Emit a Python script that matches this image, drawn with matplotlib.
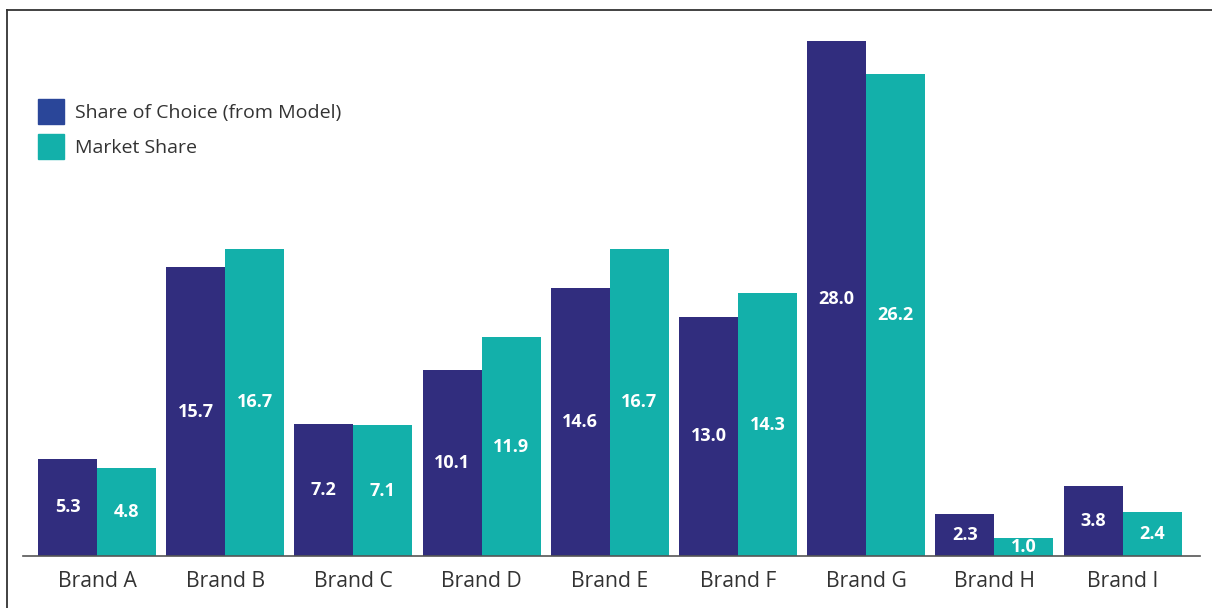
import matplotlib.pyplot as plt
import numpy as np
from matplotlib.patches import Patch
from matplotlib.lines import Line2D

brands = ['Brand A', 'Brand B', 'Brand C', 'Brand D', 'Brand E',
          'Brand F', 'Brand G', 'Brand H', 'Brand I']
share_of_choice = [5.3, 15.7, 7.2, 10.1, 14.6, 13.0, 28.0, 2.3, 3.8]
market_share = [4.8, 16.7, 7.1, 11.9, 16.7, 14.3, 26.2, 1.0, 2.4]

navy = '#312d7e'
navy_key = '#2a4699'
teal = '#13b0aa'

plt.rcParams['font.family'] = ['Open Sans', 'DejaVu Sans']

W, H = 1212, 608
fig = plt.figure(figsize=(W / 100, H / 100), dpi=100)
ax = fig.add_axes([23 / W, 52 / H, (1200 - 23) / W, (556 - 10) / H])

x = np.arange(len(brands))
w = 0.46
b1 = ax.bar(x - w / 2, share_of_choice, w, color=navy)
b2 = ax.bar(x + w / 2, market_share, w, color=teal)

# value labels sit in the middle of each bar
for bars, vals in ((b1, share_of_choice), (b2, market_share)):
    for r, v in zip(bars, vals):
        ax.text(r.get_x() + r.get_width() / 2, v / 2, f'{v:.1f}',
                ha='center', va='center', color='white',
                fontsize=13, fontweight='bold')

ax.set_xlim(-0.577, 8.604)
ax.set_ylim(0, 546 / 18.39)
ax.set_xticks(x)
ax.set_xticklabels(brands, fontsize=15.2, color='#333333')
ax.tick_params(axis='x', length=0, pad=10.5)
ax.set_yticks([])
for s in ('top', 'right', 'left'):
    ax.spines[s].set_visible(False)
ax.spines['bottom'].set_color('#555555')
ax.spines['bottom'].set_linewidth(1.2)

handles = [Patch(color=navy_key), Patch(color=teal)]
ax.legend(handles, ['Share of Choice (from Model)', 'Market Share'],
          loc='upper left', bbox_to_anchor=(38 / W, 1 - 99 / H),
          bbox_transform=fig.transFigure, frameon=False,
          fontsize=14, labelcolor='#333333',
          handlelength=1.34, handleheight=1.61, handletextpad=0.57,
          labelspacing=0.52, borderpad=0, borderaxespad=0)

# outer frame: top and left edges
fig.add_artist(Line2D([7 / W, 1], [1 - 10 / H, 1 - 10 / H], color='#333333',
                      lw=1.3, transform=fig.transFigure))
fig.add_artist(Line2D([7 / W, 7 / W], [0, 1 - 10 / H], color='#333333',
                      lw=1.3, transform=fig.transFigure))

fig.savefig('out.png', dpi=100)
